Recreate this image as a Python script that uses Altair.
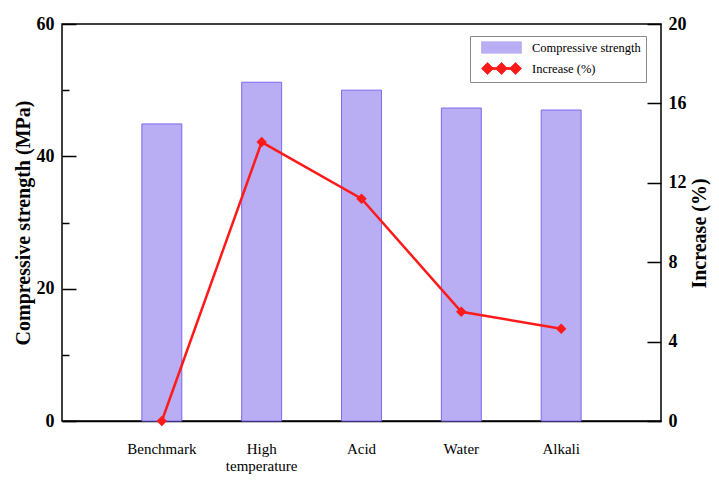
import altair as alt
import pandas as pd

# ---- data ----
categories = ["Benchmark", "High temperature", "Acid", "Water", "Alkali"]
strength = [44.9, 51.2, 50.0, 47.3, 47.0]          # MPa (left axis)
increase = [0.0, 14.05, 11.2, 5.5, 4.65]           # % (right axis)
left_major = [0, 20, 40, 60]
left_minor = [10, 30, 50]
right_ticks = [0, 4, 8, 12, 16, 20]
series_names = ["Compressive strength", "Increase (%)"]

FONT = "Liberation Serif"
BAR_FILL = "#b9aef3"
BAR_STROKE = "#7b68ee"
RED = "#ff1a1a"

df = pd.DataFrame({
    "category": categories,
    "strength": strength,
    "increase": increase,
    "s_bar": series_names[0],
    "s_line": series_names[1],
})

color_scale = alt.Scale(domain=series_names, range=[BAR_FILL, RED])

rect_path = "M0,-0.95H6.67V0.95H0Z"
diamonds_path = ("M0,0L1,-1L2,0L1,1Z M2.33,0L3.33,-1L4.33,0L3.33,1Z "
                 "M4.67,0L5.67,-1L6.67,0L5.67,1Z M1,-0.17H5.67V0.17H1Z")
is_line = "datum.value === 'Increase (%)'"

legend = alt.Legend(
    title=None, orient="none", legendX=408, legendY=12,
    padding=5, rowPadding=5, symbolSize=144, labelOffset=44,
    labelFont=FONT, labelFontSize=12.5, labelColor="black",
    strokeColor="#8a8a8a", fillColor="white",
    symbolType=alt.ExprRef(f"{is_line} ? '{diamonds_path}' : '{rect_path}'"),
    symbolFillColor=alt.ExprRef(f"{is_line} ? '{RED}' : '{BAR_FILL}'"),
    symbolStrokeColor=alt.ExprRef(f"{is_line} ? '{RED}' : '{BAR_STROKE}'"),
    symbolStrokeWidth=0.8,
    symbolOpacity=1,
)

x_enc = alt.X(
    "category:N", sort=categories,
    scale=alt.Scale(paddingInner=0.6, paddingOuter=0.8),
    axis=alt.Axis(
        title=None, labelAngle=0, ticks=False, grid=False,
        labelFont=FONT, labelFontSize=15, labelColor="black",
        labelBaseline="middle", labelPadding=27, labelLineHeight=17,
        labelExpr="datum.value == 'High temperature' ? ['High', 'temperature'] : datum.label",
    ),
)

left_scale = alt.Scale(domain=[0, 60], nice=False, zero=True)

# bars + left axis (major ticks pointing into the plot)
bars = alt.Chart(df).mark_bar(stroke=BAR_STROKE, strokeWidth=1).encode(
    x=x_enc,
    y=alt.Y(
        "strength:Q", scale=left_scale,
        axis=alt.Axis(
            orient="left", values=left_major, grid=False, domain=False,
            offset=-14, tickSize=14, labelPadding=8,
            title="Compressive strength (MPa)",
            titleFont=FONT, titleFontSize=20, titleFontWeight="bold",
            titlePadding=3,
            labelFont=FONT, labelFontSize=18, labelFontWeight="bold",
        ),
    ),
    color=alt.Color("s_bar:N", scale=color_scale, legend=legend),
)

# invisible helper layer carrying the short minor ticks of the left axis
minor = alt.Chart(df).mark_point(opacity=0).encode(
    x=x_enc,
    y=alt.Y(
        "strength:Q", scale=left_scale,
        axis=alt.Axis(
            orient="left", values=left_minor, grid=False, domain=False,
            offset=-7, tickSize=7, labels=False, title=None,
        ),
    ),
)

line = alt.Chart(df).mark_line(
    strokeWidth=2.5,
    point=alt.OverlayMarkDef(shape="diamond", filled=True, size=110, opacity=1),
).encode(
    x=x_enc,
    y=alt.Y(
        "increase:Q",
        scale=alt.Scale(domain=[0, 20], nice=False),
        axis=alt.Axis(
            orient="right", values=right_ticks, grid=False, domain=False,
            offset=-14, tickSize=14, labelPadding=7,
            title="Increase (%)", titleAngle=270, titleBaseline="top",
            titlePadding=3, titleY=209,
            titleFont=FONT, titleFontSize=20, titleFontWeight="bold",
            labelFont=FONT, labelFontSize=18, labelFontWeight="bold",
        ),
    ),
    color=alt.Color("s_line:N", scale=color_scale, legend=legend),
)

chart = alt.layer(bars, minor, line).resolve_scale(y="independent").properties(
    width=599, height=397,
    padding={"left": 54, "top": 16, "right": 50, "bottom": 57},
    autosize=alt.AutoSizeParams(type="none"),
).configure_view(
    stroke="black", strokeWidth=1.5
).configure_axis(
    domainColor="black", domainWidth=1.5, tickColor="black", tickWidth=1.5,
    labelColor="black", titleColor="black",
)

chart.save("out.html", embed_options={"renderer": "svg", "actions": False})
